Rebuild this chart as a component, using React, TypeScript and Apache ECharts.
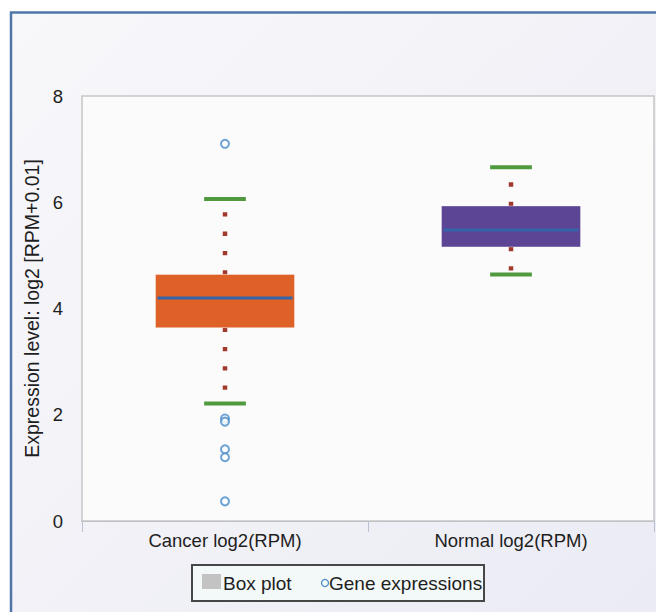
import React, { useEffect, useRef } from "react";
import * as echarts from "echarts";

// ---- data ----
const categories = ["Cancer log2(RPM)", "Normal log2(RPM)"];
// [lower whisker, Q1, median, Q3, upper whisker]
const boxStats = [
  [2.21, 3.64, 4.2, 4.64, 6.06],
  [4.64, 5.16, 5.48, 5.93, 6.66],
];
const boxColors = ["#de6227", "#5d4596"];
// outliers: [category index, value]
const outliers = [
  [0, 7.1],
  [0, 1.93],
  [0, 1.87],
  [0, 1.35],
  [0, 1.2],
  [0, 0.37],
];
const yTicks = { min: 0, max: 8, interval: 2 };
const yAxisName = "Expression level: log2 [RPM+0.01]";
const legendLabels = ["Box plot", "Gene expressions"];

const FONT = "'Liberation Sans', Arial, Helvetica, sans-serif";

export default function App() {
  const ref = useRef<HTMLDivElement>(null);

  useEffect(() => {
    if (!ref.current) return;
    const chart = echarts.init(ref.current, undefined, { renderer: "svg" });

    const boxData = boxStats.map((s, i) => [i, ...s]);

    const option: any = {
      animation: false,
      backgroundColor: "#ffffff",
      textStyle: { fontFamily: FONT },
      grid: {
        left: 82,
        top: 96,
        right: 2,
        bottom: 91,
        show: true,
        backgroundColor: "#fbfbfc",
        borderColor: "#c6c6c6",
        borderWidth: 1.5,
        z: 1,
      },
      xAxis: {
        type: "category",
        data: categories,
        boundaryGap: true,
        axisLine: { show: true, lineStyle: { color: "#a9b3c4", width: 2 } },
        axisTick: {
          show: true,
          alignWithLabel: false,
          length: 11,
          lineStyle: { color: "#b9c2d2", width: 1 },
        },
        axisLabel: {
          fontSize: 18.5,
          color: "#1e1e1e",
          margin: 10,
          fontFamily: FONT,
        },
        splitLine: { show: false },
      },
      yAxis: {
        type: "value",
        min: yTicks.min,
        max: yTicks.max,
        interval: yTicks.interval,
        name: yAxisName,
        nameLocation: "middle",
        nameGap: 29,
        nameTextStyle: { fontSize: 19.5, color: "#1e1e1e", fontFamily: FONT },
        axisLine: { show: false },
        axisTick: { show: false },
        axisLabel: { fontSize: 18.5, color: "#1e1e1e", margin: 19, fontFamily: FONT },
        splitLine: { show: true, lineStyle: { color: "#d2d2d2", width: 1.2 } },
      },
      graphic: [
        {
          type: "rect",
          z: -100,
          silent: true,
          shape: { x: 11, y: 12.5, width: 720, height: 720 },
          style: {
            fill: new echarts.graphic.LinearGradient(0, 0, 1, 1, [
              { offset: 0, color: "#f8f8fb" },
              { offset: 1, color: "#e9e9f3" },
            ]),
            stroke: "#4f76a7",
            lineWidth: 2.5,
          },
        },
        {
          type: "group",
          z: 100,
          children: [
            {
              type: "rect",
              shape: { x: 192, y: 565, width: 292, height: 36 },
              style: { fill: "#f3f8f8", stroke: "#474747", lineWidth: 2 },
            },
            {
              type: "rect",
              shape: { x: 202, y: 574, width: 19, height: 15 },
              style: { fill: "#c3c3c3" },
            },
            {
              type: "text",
              x: 223,
              y: 583,
              style: {
                text: legendLabels[0],
                fontSize: 19,
                fontFamily: FONT,
                fill: "#1e1e1e",
                verticalAlign: "middle",
                align: "left",
              },
            },
            {
              type: "circle",
              shape: { cx: 325, cy: 583, r: 3.5 },
              style: { fill: "none", stroke: "#4a8cc9", lineWidth: 1.3 },
            },
            {
              type: "text",
              x: 329,
              y: 583,
              style: {
                text: legendLabels[1],
                fontSize: 19,
                fontFamily: FONT,
                fill: "#1e1e1e",
                verticalAlign: "middle",
                align: "left",
              },
            },
          ],
        },
      ],
      series: [
        {
          name: legendLabels[0],
          type: "custom",
          data: boxData,
          encode: { x: 0, y: [1, 2, 3, 4, 5] },
          z: 3,
          renderItem: (params: any, api: any) => {
            const idx = api.value(0);
            const low = api.coord([idx, api.value(1)]);
            const q1 = api.coord([idx, api.value(2)]);
            const med = api.coord([idx, api.value(3)]);
            const q3 = api.coord([idx, api.value(4)]);
            const high = api.coord([idx, api.value(5)]);
            const cx = low[0];
            const band = api.size([1, 0])[0];
            const bw = band * 0.486;
            const capW = band * 0.146;
            const dotStyle = {
              stroke: "#a13a2c",
              lineWidth: 4.5,
              lineDash: [4.3, 15],
              lineCap: "butt",
            };
            const capStyle = { stroke: "#4f9a3e", lineWidth: 4 };
            return {
              type: "group",
              children: [
                {
                  type: "line",
                  shape: { x1: cx, y1: q3[1], x2: cx, y2: high[1] },
                  style: dotStyle,
                },
                {
                  type: "line",
                  shape: { x1: cx, y1: q1[1], x2: cx, y2: low[1] },
                  style: dotStyle,
                },
                {
                  type: "line",
                  shape: { x1: cx - capW / 2, y1: high[1], x2: cx + capW / 2, y2: high[1] },
                  style: capStyle,
                },
                {
                  type: "line",
                  shape: { x1: cx - capW / 2, y1: low[1], x2: cx + capW / 2, y2: low[1] },
                  style: capStyle,
                },
                {
                  type: "rect",
                  shape: { x: cx - bw / 2, y: q3[1], width: bw, height: q1[1] - q3[1] },
                  style: {
                    fill: boxColors[params.dataIndex],
                    stroke: "rgba(255,255,255,0.35)",
                    lineWidth: 1,
                  },
                },
                {
                  type: "line",
                  shape: { x1: cx - bw / 2 + 2, y1: med[1], x2: cx + bw / 2 - 2, y2: med[1] },
                  style: { stroke: "#3565a8", lineWidth: 3 },
                },
              ],
            };
          },
        },
        {
          name: legendLabels[1],
          type: "scatter",
          data: outliers,
          symbol: "emptyCircle",
          symbolSize: 8,
          z: 4,
          itemStyle: { color: "#4a8cc9", borderColor: "#4a8cc9", borderWidth: 1.5 },
        },
      ],
    };

    chart.setOption(option);
    return () => chart.dispose();
  }, []);

  return (
    <div
      ref={ref}
      style={{ position: "absolute", left: 0, top: 0, width: 656, height: 612 }}
    />
  );
}
